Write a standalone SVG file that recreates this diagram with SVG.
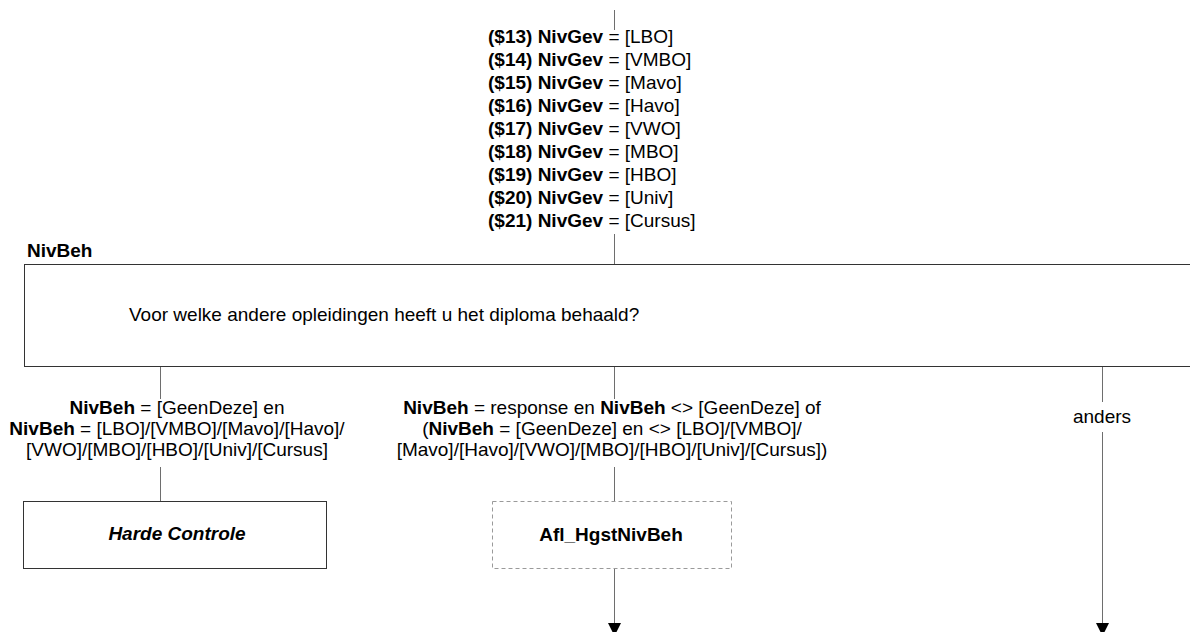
<svg xmlns="http://www.w3.org/2000/svg" width="1190" height="632" viewBox="0 0 1190 632">
<defs>
<style>
text{font-family:"Liberation Sans",Arial,sans-serif;font-size:19px;fill:#000}
.b{font-weight:bold}
.bi{font-weight:bold;font-style:italic}
.c{text-anchor:middle}
.conn{stroke:#6e6e6e;stroke-width:1;fill:none}
.box{fill:#fff;stroke:#333;stroke-width:1}
.dbox{fill:#fff;stroke:#9a9a9a;stroke-width:1;stroke-dasharray:4,3}
</style>
<marker id="arr" viewBox="0 0 13 13" refX="13" refY="6.5" markerWidth="13" markerHeight="13" markerUnits="userSpaceOnUse" orient="auto">
<path d="M0,0 L13,6.5 L0,13 z" fill="#000"/>
</marker>
</defs>
<rect width="1190" height="632" fill="#fff"/>
<g id="connectors">
<line class="conn" x1="614.5" y1="10" x2="614.5" y2="30"/>
<line class="conn" x1="614.5" y1="234" x2="614.5" y2="264"/>
<line class="conn" x1="160.5" y1="367" x2="160.5" y2="399"/>
<line class="conn" x1="160.5" y1="467" x2="160.5" y2="501"/>
<line class="conn" x1="614.5" y1="367" x2="614.5" y2="399"/>
<line class="conn" x1="614.5" y1="467" x2="614.5" y2="501"/>
<line class="conn" x1="614.5" y1="569" x2="614.5" y2="636" marker-end="url(#arr)"/>
<line class="conn" x1="1102.5" y1="367" x2="1102.5" y2="402"/>
<line class="conn" x1="1102.5" y1="432" x2="1102.5" y2="636" marker-end="url(#arr)"/>
<g id="top-label">
<text x="488" y="43"><tspan class="b">($13) NivGev</tspan> = [LBO]</text>
<text x="488" y="66"><tspan class="b">($14) NivGev</tspan> = [VMBO]</text>
<text x="488" y="89"><tspan class="b">($15) NivGev</tspan> = [Mavo]</text>
<text x="488" y="112"><tspan class="b">($16) NivGev</tspan> = [Havo]</text>
<text x="488" y="135"><tspan class="b">($17) NivGev</tspan> = [VWO]</text>
<text x="488" y="158"><tspan class="b">($18) NivGev</tspan> = [MBO]</text>
<text x="488" y="181"><tspan class="b">($19) NivGev</tspan> = [HBO]</text>
<text x="488" y="204"><tspan class="b">($20) NivGev</tspan> = [Univ]</text>
<text x="488" y="227"><tspan class="b">($21) NivGev</tspan> = [Cursus]</text>
</g>
<g id="left-label">
<text class="c" x="177" y="414"><tspan class="b">NivBeh</tspan> = [GeenDeze] en</text>
<text class="c" x="177" y="435"><tspan class="b">NivBeh</tspan> = [LBO]/[VMBO]/[Mavo]/[Havo]/</text>
<text class="c" x="177" y="456">[VWO]/[MBO]/[HBO]/[Univ]/[Cursus]</text>
</g>
<g id="middle-label">
<text class="c" x="612" y="414"><tspan class="b">NivBeh</tspan> = response en <tspan class="b">NivBeh</tspan> &lt;&gt; [GeenDeze] of</text>
<text class="c" x="612" y="435">(<tspan class="b">NivBeh</tspan> = [GeenDeze] en &lt;&gt; [LBO]/[VMBO]/</text>
<text class="c" x="612" y="456">[Mavo]/[Havo]/[VWO]/[MBO]/[HBO]/[Univ]/[Cursus])</text>
</g>
<text class="c" x="1102" y="423">anders</text>
</g>
<g id="NivBeh">
<text class="b" x="27" y="257">NivBeh</text>
<rect class="box" x="24.5" y="264.5" width="1180" height="102"/>
<text x="129" y="321">Voor welke andere opleidingen heeft u het diploma behaald?</text>
</g>
<g id="HardeControle">
<rect class="box" x="23.5" y="501.5" width="303" height="67"/>
<text class="bi c" x="177" y="540">Harde Controle</text>
</g>
<g id="Afl_HgstNivBeh">
<rect class="dbox" x="492.5" y="501.5" width="239" height="67"/>
<text class="b c" x="611" y="541">Afl_HgstNivBeh</text>
</g>
</svg>
